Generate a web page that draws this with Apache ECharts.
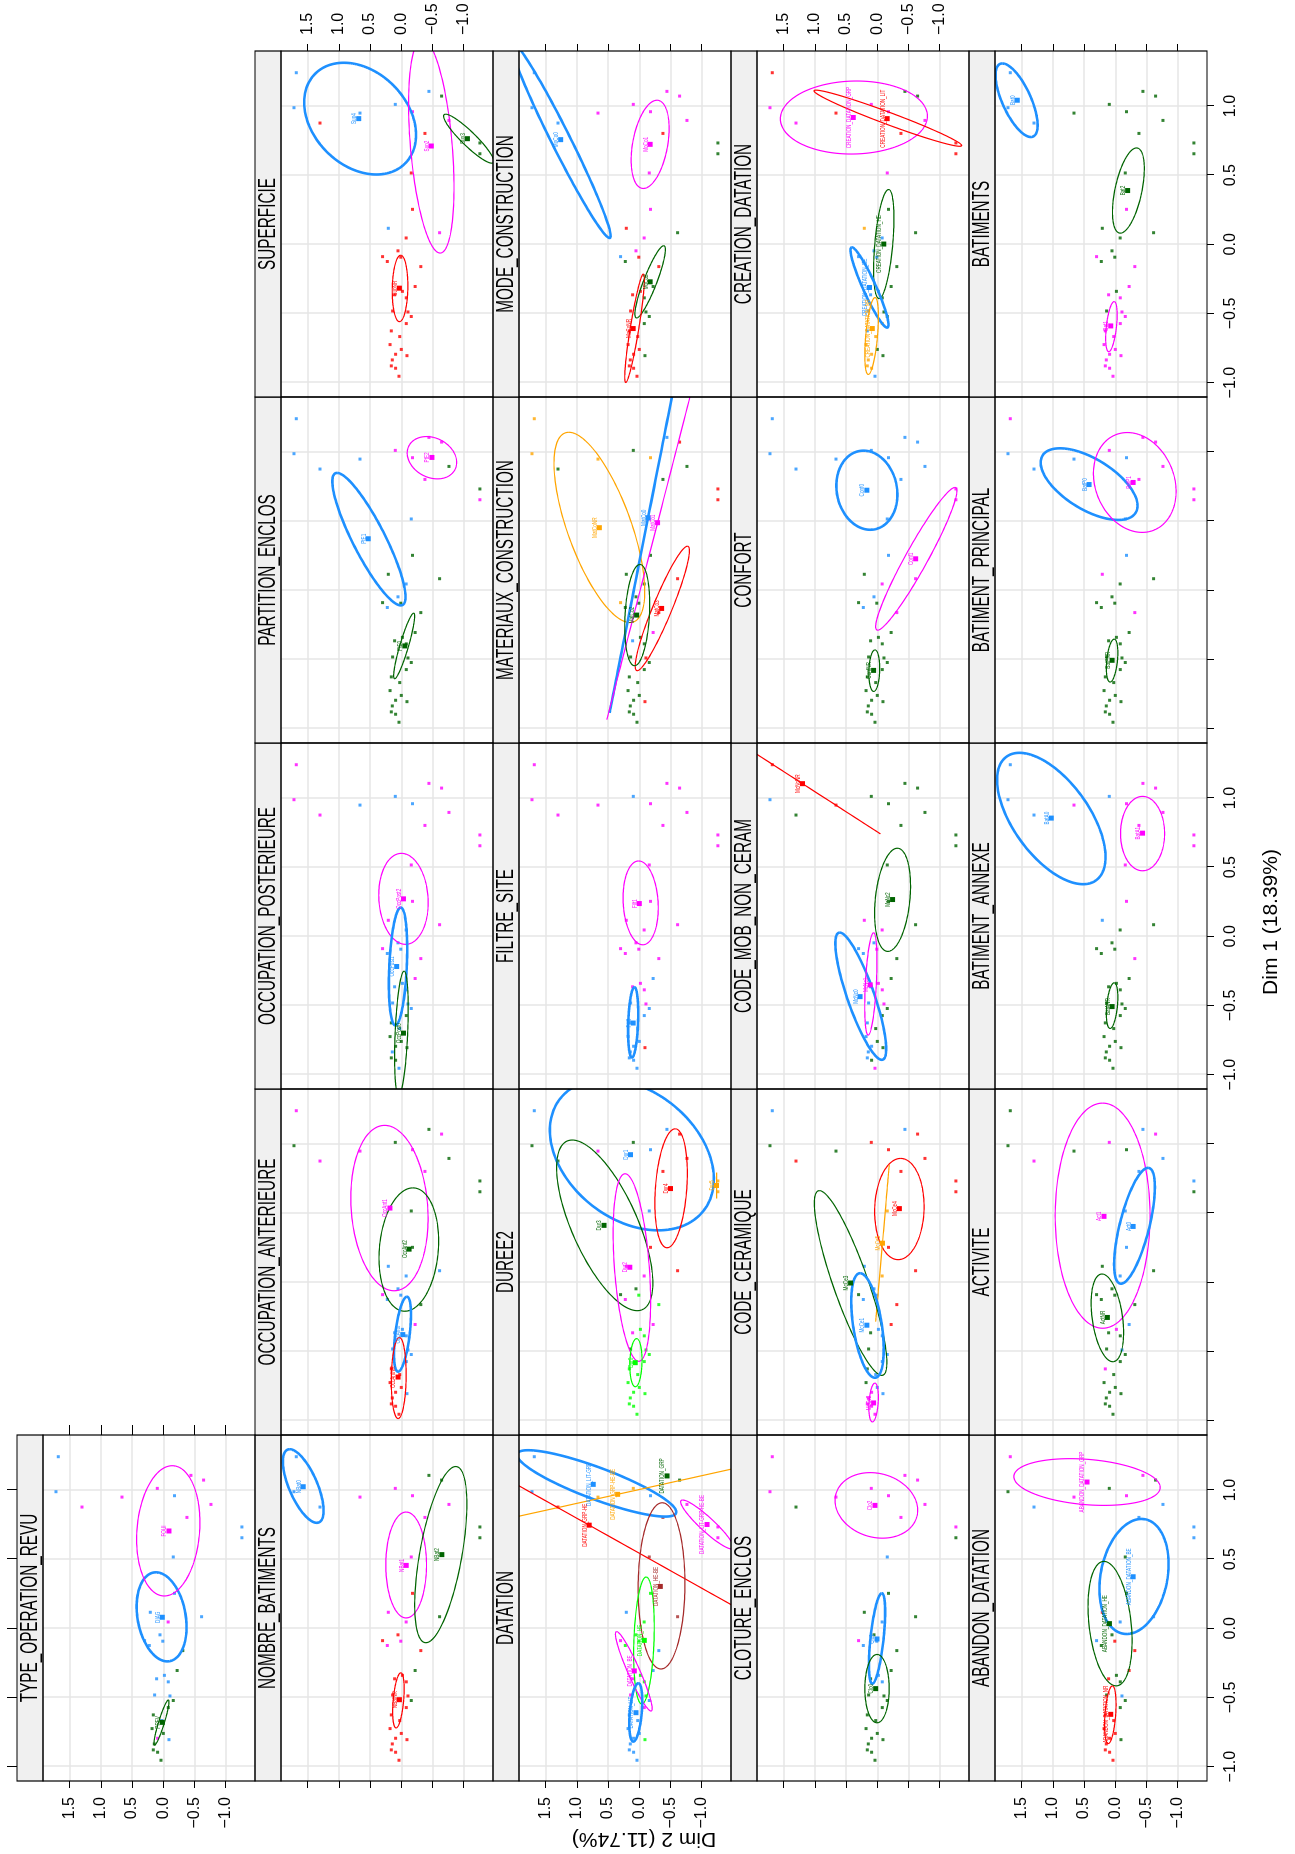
<!DOCTYPE html>
<html><head><meta charset="utf-8">
<script src="https://cdn.jsdelivr.net/npm/echarts@6/dist/echarts.min.js"></script>
<style>
html,body{margin:0;padding:0;background:#fff;overflow:hidden;width:1295px;height:1854px;}
#wrap{position:absolute;left:0;top:0;width:1295px;height:1854px;overflow:hidden;}
#chart{position:absolute;left:0;top:0;width:1854px;height:1295px;transform-origin:0 0;transform:translate(0px,1854px) rotate(-90deg);}
</style></head><body><div id="wrap"><div id="chart"></div></div>
<script>
// ---------------- data ----------------
const panelNames = ['ABANDON_DATATION','ACTIVITE','BATIMENT_ANNEXE','BATIMENT_PRINCIPAL','BATIMENTS',
  'CLOTURE_ENCLOS','CODE_CERAMIQUE','CODE_MOB_NON_CERAM','CONFORT','CREATION_DATATION',
  'DATATION','DUREE2','FILTRE_SITE','MATERIAUX_CONSTRUCTION','MODE_CONSTRUCTION',
  'NOMBRE_BATIMENTS','OCCUPATION_ANTERIEURE','OCCUPATION_POSTERIEURE','PARTITION_ENCLOS','SUPERFICIE',
  'TYPE_OPERATION_REVU'];

// individuals (Dim 1, Dim 2)
const indDim1 = [1.241,0.988,0.877,0.949,1.012,0.959,1.106,1.072,0.896,0.802,0.733,0.655,0.516,0.253,
  0.116,0.084,0.046,-0.047,-0.093,-0.089,-0.124,-0.161,-0.305,-0.34,-0.365,-0.387,-0.482,-0.489,-0.522,-0.573,
  -0.626,-0.667,-0.725,-0.76,-0.795,-0.805,-0.836,-0.879,-0.896,-0.954];
const indDim2 = [1.683,1.72,1.303,0.662,0.096,-0.18,-0.443,-0.646,-0.764,-0.379,-1.26,-1.26,-0.16,-0.18,
  0.208,-0.614,-0.078,0.053,0.008,0.30,0.224,-0.313,-0.222,-0.018,0.107,-0.08,0.139,-0.107,-0.16,-0.08,
  0.16,0.025,0.18,0.0,0.091,-0.091,0.144,0.16,0.091,0.037];

const RED='#FF0000', DGR='#006400', BLU='#1E90FF', MAG='#FF00FF', ORA='#FFA500', LGR='#00FF00', BRN='#A52A2A';

const levelLabels = [
  ['ABANDON_DATATION_GRP','ABANDON_DATATION_BE','ABANDON_DATATION_HE','ABANDON_DATATION_NR'],
  ['Act1','Act0','ActNR'],
  ['BatA0','BatA1','BatANR'],
  ['BatP0','BatP1','BatPNR'],
  ['Bat0','Bat2','Bat1'],
  ['Clo2','Clo1','Clo0'],
  ['McCe4','McCe5','McCe3','McCe1','McCe2'],
  ['McNcNR','McNc2','McNc0','McNc1'],
  ['Conf0','Conf1','ConfNR'],
  ['CREATION_DATATION_GRP','CREATION_DATATION_LIT','CREATION_DATATION_HE','CREATION_DATATION_BE','CREATION_DATATION_NR'],
  ['DATATION_LIT-GRP','DATATION_GRP-HE-BE','DATATION_GRP-HE','DATATION_GRP','DATATION_LIT-GRP-HE-BE','DATATION_HE-BE','DATATION_HE','DATATION_BE','DATATION_LIT'],
  ['Dur1','Dur4','Dur5','Dur3','Dur2','Dur0'],
  ['Filt1','Filt0','FiltNR'],
  ['MatCoNR','MatCo0','MatCo1','MatCo3','MatCo2'],
  ['MoCo0','MoCo1','MoCo2','MoCoNR'],
  ['NBat0','NBat1','NBat2','NBatNR'],
  ['OccAnt1','OccAnt2','OccAnt0','OccAntNR'],
  ['OccPost2','OccPost1','OccPost0'],
  ['PtE2','PtE1','PtE0'],
  ['Sup4','Sup2','Sup3','SupNR'],
  ['DIAG','FOUI','PREV']
];
const levelColors = [
  [MAG,BLU,DGR,RED],[MAG,BLU,DGR],[BLU,MAG,DGR],[BLU,MAG,DGR],[BLU,DGR,MAG],
  [MAG,BLU,DGR],[RED,ORA,DGR,BLU,MAG],[RED,DGR,BLU,MAG],[BLU,MAG,DGR],[MAG,RED,DGR,BLU,ORA],
  [BLU,ORA,RED,DGR,MAG,BRN,LGR,MAG,BLU],[BLU,RED,ORA,DGR,MAG,LGR],[MAG,BLU,RED],[ORA,BLU,MAG,RED,DGR],[BLU,MAG,DGR,RED],
  [BLU,MAG,DGR,RED],[MAG,DGR,BLU,RED],[MAG,BLU,DGR],[MAG,BLU,DGR],[BLU,MAG,DGR,RED],
  [BLU,MAG,DGR]
];
const centroidDim1 = [
  [1.058,0.373,0.034,-0.622],[0.477,0.404,-0.254],[0.855,0.746,-0.508],[0.765,0.78,-0.506],[1.042,0.389,-0.59],
  [0.889,-0.077,-0.436],[0.533,0.283,-0.005,-0.31,-0.872],[1.104,0.266,-0.436,-0.351],[0.724,0.228,-0.579],[0.917,0.909,0.002,-0.312,-0.609],
  [1.041,0.969,0.746,1.102,0.751,0.303,-0.087,-0.308,-0.61],[0.923,0.678,0.70,0.412,0.109,-0.581],[0.237,-0.627,null],[0.453,0.525,0.489,-0.131,-0.179],[0.757,0.723,-0.271,-0.609],
  [1.024,0.455,0.533,-0.516],[0.537,0.24,-0.378,-0.685],[0.271,-0.218,-0.70],[0.961,0.373,-0.402],[0.909,0.711,0.764,-0.317],
  [0.08,0.704,-0.68]
];
const centroidDim2 = [
  [0.453,-0.286,0.094,0.073],[0.181,-0.286,0.127],[1.026,-0.437,0.051],[0.42,-0.286,0.051],[1.571,-0.198,0.073],
  [0.037,0.005,0.026],[-0.354,-0.083,0.428,0.167,0.059],[1.199,-0.245,0.276,0.113],[0.167,-0.615,0.059],[0.385,-0.158,-0.104,0.125,0.08],
  [0.738,0.347,0.803,-0.445,-1.086,-0.337,-0.08,0.08,0.053],[0.141,-0.5,-1.238,0.565,0.152,0.065],[0.0,0.098,null],[0.64,-0.141,-0.293,-0.358,0.043],[1.26,-0.174,-0.174,0.098],
  [1.572,-0.079,-0.65,0.03],[0.182,-0.125,-0.024,0.052],[-0.035,0.074,-0.035],[-0.491,0.53,-0.057],[0.682,-0.481,-1.06,0.03],
  [0.016,-0.091,0.016]
];
// ellipse: [centre Dim1, centre Dim2, offset Dim1 to rightmost point, offset Dim2 of that point, half-extent in Dim2]
const ellipseParams = [
  [[1.058,0.453,0.169,0.271,1.173],[0.375,-0.3,0.416,-0.119,0.554],[0.034,0.084,0.45,0.098,0.353],[-0.625,0.08,0.208,-0.033,0.092]],
  [[0.482,0.203,0.814,0,0.76],[0.409,-0.308,0.419,-0.217,0.326],[-0.257,0.127,0.317,0.087,0.26]],
  [[0.852,1.026,0.475,0.51,0.869],[0.743,-0.437,0.269,0,0.353],[-0.501,0.051,0.165,-0.033,0.092]],
  [[0.768,0.42,0.259,0.467,0.776],[0.78,-0.312,0.361,0.119,0.662],[-0.508,0.051,0.155,-0.033,0.092]],
  [[1.042,1.582,0.266,0.228,0.337],[0.389,-0.21,0.308,-0.13,0.255],[-0.595,0.062,0.181,-0.043,0.092]],
  [[0.889,0.015,0.237,0.098,0.662],[-0.073,0.004,0.327,-0.076,0.13],[-0.436,0.004,0.247,0,0.195]],
  [[0.53,-0.354,0.366,-0.02,0.396],[0.283,-0.083,0.567,-0.109,0.109],[-0.005,0.428,0.668,0.5,0.581],[-0.312,0.157,0.378,0.119,0.26],[-0.869,0.059,0.14,-0.02,0.076]],
  [[1.104,1.199,0.363,1.249,1.249],[0.264,-0.245,0.373,-0.076,0.288],[-0.433,0.265,0.46,0.337,0.407],[-0.344,0.103,0.37,-0.043,0.098]],
  [[0.724,0.167,0.286,0.054,0.489],[0.228,-0.625,0.516,-0.619,0.651],[-0.581,0.048,0.15,-0.01,0.087]],
  [[0.917,0.375,0.264,-0.043,1.178],[0.912,-0.169,0.203,1.151,1.183],[0.002,-0.104,0.394,-0.076,0.163],[-0.312,0.125,0.29,0.282,0.304],[-0.663,0.091,0.278,-0.054,0.109]],
  [[1.048,0.684,0.24,1.097,1.276],[0.969,0.347,0.3,-3.0,3.0],[0.746,0.803,0.6,2.375,2.375],null,[0.751,-1.086,0.177,0.391,0.423],[0.307,-0.357,0.601,-0.01,0.375],[-0.088,-0.075,0.459,-0.035,0.165],[-0.311,0.088,0.287,0.275,0.294],[-0.608,0.056,0.211,-0.04,0.104]],
  [[0.923,0.119,0.547,0.423,1.314],[0.68,-0.51,0.43,-0.065,0.26],[0.70,-1.238,0.094,0,0],[0.412,0.554,0.617,0.521,0.771],[0.107,0.119,0.678,0.109,0.3],[-0.581,0.054,0.174,-0.01,0.098]],
  [[0.242,-0.022,0.303,0.033,0.282],[-0.622,0.098,0.254,-0.02,0.081],null],
  [[0.455,0.64,0.688,0.489,0.727],[0.525,-0.141,1.411,-0.617,0.617],[0.489,-0.293,1.424,-0.813,0.813],[-0.131,-0.369,0.45,-0.402,0.434],[-0.179,0.033,0.366,-0.043,0.2]],
  [[0.757,1.26,0.711,0.782,0.80],[0.723,-0.174,0.319,-0.109,0.304],[-0.271,-0.174,0.261,-0.217,0.244],[-0.607,0.076,0.392,-0.141,0.157]],
  [[1.029,1.572,0.266,0.217,0.326],[0.458,-0.078,0.383,0,0.326],[0.533,-0.633,0.637,-0.239,0.418],[-0.521,0.046,0.199,-0.038,0.092]],
  [[0.537,0.19,0.598,0.076,0.619],[0.237,-0.121,0.446,-0.065,0.478],[-0.375,-0.019,0.271,-0.071,0.136],[-0.692,0.041,0.293,-0.01,0.119]],
  [[0.271,-0.035,0.329,0.033,0.396],[-0.218,0.052,0.426,-0.043,0.147],[-0.70,-0.002,0.448,-0.043,0.109]],
  [[0.959,-0.491,0.153,0.087,0.396],[0.37,0.519,0.479,0.51,0.586],[-0.402,-0.046,0.237,-0.152,0.168]],
  [[0.909,0.66,0.404,0.261,0.896],[0.711,-0.481,0.774,0.141,0.364],[0.764,-1.08,0.177,0.369,0.402],[-0.319,0.02,0.24,-0.01,0.125]],
  [[0.083,0.027,0.322,0.091,0.40],[0.705,-0.08,0.471,-0.064,0.507],[-0.681,0.029,0.163,-0.11,0.12]]
];
// level of each individual in each panel
const membership = [
  [0,2,1,0,2,0,0,2,1,1,1,1,2,2, 3,1,1,2,3,1,2,3,3,2,3,2,2,1,2,2,3,3,3,3,3,2,3,3,3,3],
  [2,2,0,2,0,2,1,0,1,1,1,2,1,1, 2,2,1,2,2,2,2,2,1,0,2,2,2,1,2,2,0,2,2,2,2,2,2,2,2,2],
  [0,0,0,1,0,1,1,1,1,1,1,1,1,1, 0,2,2,2,2,2,2,1,2,2,2,2,2,2,2,2,2,2,2,2,2,2,2,2,2,2],
  [1,0,0,0,1,0,1,1,1,1,1,1,0,0, 1,2,2,2,2,2,2,1,2,2,2,2,2,2,2,2,2,2,2,2,2,2,2,2,2,2],
  [0,0,0,1,1,1,1,1,1,1,1,1,1,2, 1,1,1,1,1,2,1,2,2,1,2,2,1,2,2,2,2,2,2,2,2,2,2,2,2,2],
  [0,0,2,0,0,0,0,0,0,0,0,2,1,2, 2,2,1,2,1,0,1,2,2,1,2,1,2,2,2,2,2,2,2,2,2,2,2,2,2,2],
  [3,2,0,2,0,0,3,0,0,0,0,0,1,0, 3,0,1,3,3,2,3,0,0,3,2,3,2,3,3,3,2,3,2,3,4,3,4,4,4,4],
  [0,2,1,0,1,1,1,1,1,1,1,1,1,1, 3,1,3,2,3,2,2,1,1,3,2,3,2,3,1,1,2,1,2,1,2,1,2,2,1,3],
  [0,0,0,0,0,0,0,0,0,0,1,1,0,0, 2,1,1,0,2,2,0,1,2,2,2,2,2,2,2,2,2,2,2,2,2,2,2,2,2,2],
  [1,0,0,1,0,0,2,2,0,1,1,1,0,2, 4,2,3,3,3,3,3,2,2,3,3,2,3,2,2,4,3,4,4,2,4,2,4,4,4,3],
  [0,0,2,1,1,0,3,3,4,5,4,4,5,6, 8,5,6,6,6,7,6,8,8,6,7,6,7,6,8,7,8,8,8,8,8,6,8,8,8,8],
  [0,3,3,4,3,0,0,1,1,1,2,2,0,1, 4,1,4,3,5,3,4,5,4,5,4,5,3,5,5,5,5,5,5,5,5,5,5,5,5,5],
  [0,0,0,0,1,0,0,0,0,0,0,0,0,0, 0,0,0,0,0,0,0,0,1,0,0,0,1,0,1,1,1,1,1,1,1,2,1,1,1,1],
  [0,0,4,0,4,0,1,3,4,4,3,3,2,4, 4,3,4,4,4,0,4,3,2,4,1,4,4,3,4,4,4,4,4,4,4,3,4,4,4,4],
  [0,0,0,1,1,1,1,1,1,3,2,2,1,1, 3,2,1,1,3,0,2,3,2,3,3,2,3,2,2,2,3,3,3,3,3,2,3,3,3,3],
  [0,0,0,1,1,1,2,2,1,1,2,2,1,3, 1,2,1,3,1,3,1,3,2,3,3,3,3,3,2,3,3,3,3,3,3,3,3,3,3,3],
  [0,1,0,0,1,0,1,0,1,0,1,1,1,1, 2,2,2,2,2,0,2,1,0,2,2,2,2,2,2,2,3,3,3,3,3,2,3,3,3,3],
  [0,0,0,1,1,1,0,0,0,0,0,0,0,0, 0,0,1,1,1,0,1,0,0,1,1,1,1,1,1,2,2,1,2,2,2,2,1,2,2,1],
  [1,1,1,1,0,0,0,0,2,0,2,0,1,2, 2,2,1,1,2,2,1,2,2,2,2,2,2,2,2,2,2,2,2,2,2,2,2,2,2,2],
  [0,0,3,0,0,1,0,2,1,3,2,2,3,3, 0,1,3,3,3,3,3,3,3,3,3,3,3,3,3,3,3,3,3,3,3,3,3,3,3,3],
  [0,0,1,1,1,0,1,1,1,1,0,0,0,0, 0,0,1,0,0,0,0,2,2,0,0,0,0,0,2,2,2,0,2,2,1,0,2,2,2,2]
];
const tickDim1 = [-1, -0.5, 0, 0.5, 1];
const tickDim2 = [-1, -0.5, 0, 0.5, 1, 1.5];
const xTitle = 'Dim 1 (18.39%)';
const yTitle = 'Dim 2 (11.74%)';

// ---------------- layout ----------------
const FONT = 'Liberation Sans';
const PANEL_W = 346, PANEL_H = 212, STRIP_H = 26, LEFT0 = 73, TOP0 = 43, ROW_PITCH = 238;
const X_MIN = -1.104, X_MAX = 1.398, Y_MIN = -1.47, Y_MAX = 1.928;
const GRID_COLOR = '#e6e6e6';
const NARROW = 0.665;
const fmt = v => (v < 0 ? '\u2212' : '') + Math.abs(v).toFixed(1);

const option = {animation: false, backgroundColor: '#ffffff', grid: [], xAxis: [], yAxis: [], series: [], graphic: {elements: []}};
const extraX = [], extraY = [];

function tickAxis(dim, i, pos, showLabel, len, offset) {
  const ticks = dim === 'x' ? tickDim1 : tickDim2;
  return {
    gridIndex: i, type: 'value', position: pos, offset: offset || 0,
    min: dim === 'x' ? X_MIN : Y_MIN, max: dim === 'x' ? X_MAX : Y_MAX,
    axisLine: {show: false, onZero: false},
    axisTick: {show: true, customValues: ticks, length: len, lineStyle: {color: '#000', width: 1}},
    axisLabel: {show: showLabel, customValues: ticks, formatter: fmt, margin: 16, fontSize: 16, fontFamily: FONT, color: '#000'},
    splitLine: {show: false}
  };
}

for (let i = 0; i < panelNames.length; i++) {
  const row = 5 - Math.floor(i / 5);
  const col = i % 5 + 1;
  const left = LEFT0 + (col - 1) * PANEL_W;
  const top = TOP0 + (row - 1) * ROW_PITCH;
  option.grid.push({left: left, top: top, width: PANEL_W, height: PANEL_H});
  option.xAxis.push({
    gridIndex: i, type: 'value', min: X_MIN, max: X_MAX, position: 'bottom',
    axisLine: {show: false, onZero: false},
    axisTick: {show: row === 5, customValues: tickDim1, length: 7, lineStyle: {color: '#000', width: 1}},
    axisLabel: {show: row === 5 && col % 2 === 1, customValues: tickDim1, formatter: fmt, margin: 16, fontSize: 16, fontFamily: FONT, color: '#000'},
    splitLine: {show: true, lineStyle: {color: GRID_COLOR, width: 1.5}}
  });
  option.yAxis.push({
    gridIndex: i, type: 'value', min: Y_MIN, max: Y_MAX, position: 'left',
    axisLine: {show: false, onZero: false},
    axisTick: {show: col === 1, customValues: tickDim2, length: 7, lineStyle: {color: '#000', width: 1}},
    axisLabel: {show: col === 1 && row % 2 === 1, customValues: tickDim2, formatter: fmt, margin: 16, fontSize: 16, fontFamily: FONT, color: '#000'},
    splitLine: {show: true, lineStyle: {color: GRID_COLOR, width: 1.5}}
  });
  if (row === 1) {
    extraX.push(tickAxis('x', i, 'top', false, 10, STRIP_H));
    extraY.push(tickAxis('y', i, 'right', false, 10, 0));
  }
  if (col === 5) extraY.push(tickAxis('y', i, 'right', row % 2 === 0, 7, 0));

  const colors = levelColors[i];
  // individuals
  option.series.push({
    type: 'scatter', xAxisIndex: i, yAxisIndex: i, silent: true, z: 2,
    symbol: 'rect', symbolSize: 3,
    data: indDim1.map((d1, k) => ({value: [d1, indDim2[k]], itemStyle: {color: colors[membership[i][k]]}}))
  });
  // confidence ellipses
  const ells = ellipseParams[i];
  option.series.push({
    type: 'custom', xAxisIndex: i, yAxisIndex: i, silent: true, z: 3, clip: true,
    encode: {x: 0, y: 1},
    data: ells.map((e, k) => e ? [e[0], e[1], k] : null).filter(d => d),
    renderItem: function (params, api) {
      const k = api.value(2);
      const e = ells[k];
      const cx = e[0], cy = e[1], ux = e[2], uy = e[3], hy = e[4];
      const vy = Math.sqrt(Math.max(hy * hy - uy * uy, 0));
      const pts = [];
      for (let s = 0; s <= 160; s++) {
        const t = s / 160 * 2 * Math.PI;
        pts.push(api.coord([cx + ux * Math.cos(t), cy + uy * Math.cos(t) + vy * Math.sin(t)]));
      }
      const c = colors[k];
      return {type: 'polyline', shape: {points: pts}, style: {stroke: c, lineWidth: c === BLU ? 2.6 : 1.2, fill: 'none'}};
    }
  });
  // category points + labels
  const cd = [];
  centroidDim1[i].forEach((d1, k) => { if (d1 !== null) cd.push([d1, centroidDim2[i][k], k]); });
  option.series.push({
    type: 'custom', xAxisIndex: i, yAxisIndex: i, silent: true, z: 4, clip: true,
    encode: {x: 0, y: 1},
    data: cd,
    renderItem: function (params, api) {
      const k = api.value(2);
      const p = api.coord([api.value(0), api.value(1)]);
      const c = colors[k];
      return {type: 'group', children: [
        {type: 'rect', shape: {x: p[0] - 2.5, y: p[1] - 2.5, width: 5, height: 5}, style: {fill: c}},
        {type: 'text', x: p[0], y: p[1] - 1, scaleX: NARROW,
         style: {text: levelLabels[i][k], fill: c, fontSize: 7, fontFamily: FONT, align: 'center', verticalAlign: 'bottom'}}
      ]};
    }
  });
  // strip + border
  option.graphic.elements.push(
    {type: 'rect', shape: {x: left, y: top - STRIP_H, width: PANEL_W, height: STRIP_H}, style: {fill: '#f0f0f0', stroke: '#000', lineWidth: 1.2}, z: 100, silent: true},
    {type: 'text', x: left + PANEL_W / 2, y: top - STRIP_H / 2 + 1, scaleX: NARROW, z: 101, silent: true,
     style: {text: panelNames[i], fill: '#000', fontSize: 23, fontFamily: FONT, font: '23px "Liberation Sans"', textAlign: 'center', textVerticalAlign: 'middle', align: 'center', verticalAlign: 'middle'}},
    {type: 'rect', shape: {x: left, y: top, width: PANEL_W, height: PANEL_H}, style: {fill: 'none', stroke: '#000', lineWidth: 1.2}, z: 100, silent: true}
  );
}
option.xAxis = option.xAxis.concat(extraX);
option.yAxis = option.yAxis.concat(extraY);
option.graphic.elements.push(
  {type: 'text', x: 932, y: 1271, z: 101, silent: true,
   style: {text: xTitle, fill: '#000', fontSize: 21, fontFamily: FONT, font: '21px "Liberation Sans"', textAlign: 'center', textVerticalAlign: 'middle', align: 'center', verticalAlign: 'middle'}},
  {type: 'text', x: 15, y: 644, rotation: Math.PI / 2, z: 101, silent: true,
   style: {text: yTitle, fill: '#000', fontSize: 21, fontFamily: FONT, font: '21px "Liberation Sans"', textAlign: 'center', textVerticalAlign: 'middle', align: 'center', verticalAlign: 'middle'}}
);

const chart = echarts.init(document.getElementById('chart'), null, {renderer: 'canvas', width: 1854, height: 1295});
chart.setOption(option);
</script></body></html>
